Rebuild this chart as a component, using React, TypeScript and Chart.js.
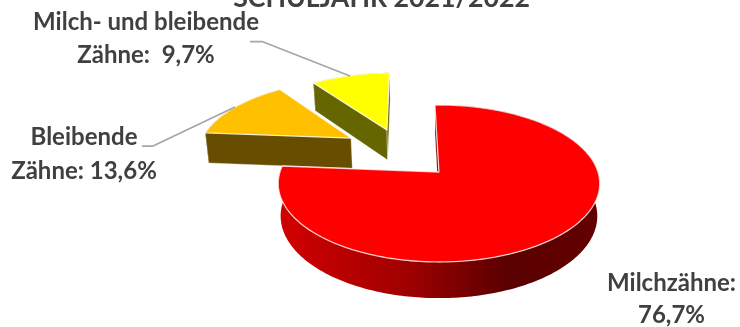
import React, { useEffect, useRef } from "react";
import Chart from "chart.js/auto";

const categories = ["Milchzähne", "Bleibende Zähne", "Milch- und bleibende Zähne"];
const shares = [76.7, 13.6, 9.7];
const topColors = ["#FF0000", "#FFC000", "#FFFF00"];
const wallColors = ["#660000", "#664D00", "#666600"];
const titleText = "SCHULJAHR 2021/2022";

// Exploded slices are pulled out along these plane vectors, in pie radii.
const sliceShift = [
  [0.006, 0],
  [-0.585, -0.473],
  [-0.349, -0.594],
];

const labelLines = [
  { lines: ["Milch- und bleibende", "Zähne:  9,7%"], x: 146, y: [30, 63] },
  { lines: ["Bleibende", "Zähne: 13,6%"], x: 84, y: [145, 179] },
  { lines: ["Milchzähne:", "76,7%"], x: 671.5, y: [291, 323] },
];
const leaderLines = [
  [[250, 41.5], [262, 41.5], [350, 76]],
  [[142, 146], [153, 146], [235, 107]],
];

const PERSPECTIVE = 0.1465;
const TILT = 76.8 / 159;
const DEPTH = 32;
const FLOOR_SCALE = 0.985;
const FONT = 'Lato, sans-serif';

type Pt = [number, number];

const pie3d = {
  id: "pie3d",
  beforeDatasetsDraw(chart: any) {
    const ctx: CanvasRenderingContext2D = chart.ctx;
    const arcs = chart.getDatasetMeta(0).data;

    // Draws the far slices first so that nearer faces cover them.
    for (let i = arcs.length - 1; i >= 0; i--) {
      const arc = arcs[i];
      const { x: cx, y: cy, startAngle, endAngle, outerRadius: R } = arc.getProps(
        ["x", "y", "startAngle", "endAngle", "outerRadius"],
        true
      );
      const [sx, sy] = sliceShift[i];

      const project = (a: number, r: number, low: boolean): Pt => {
        const px = r * Math.cos(a) + sx * R;
        const py = r * Math.sin(a) + sy * R;
        const w = 1 - (PERSPECTIVE * py) / R;
        const s = low ? FLOOR_SCALE : 1;
        return [cx + (px / w) * s, cy + ((TILT * py) / w) * s + (low ? DEPTH / w : 0)];
      };

      const rim = (low: boolean): Pt[] => {
        const out: Pt[] = [];
        const steps = Math.ceil(((endAngle - startAngle) * 180) / Math.PI);
        for (let k = 0; k <= steps; k++) {
          out.push(project(startAngle + ((endAngle - startAngle) * k) / steps, R, low));
        }
        return out;
      };

      const fillPoly = (pts: Pt[], fill: any, stroke?: string, width = 1) => {
        ctx.beginPath();
        pts.forEach((p, n) => (n ? ctx.lineTo(p[0], p[1]) : ctx.moveTo(p[0], p[1])));
        ctx.closePath();
        ctx.fillStyle = fill;
        ctx.fill();
        if (stroke) {
          ctx.strokeStyle = stroke;
          ctx.lineWidth = width;
          ctx.lineJoin = "round";
          ctx.stroke();
        }
      };

      const topRim = rim(false);
      const lowRim = rim(true);
      const apexTop = project(0, 0, false);
      const apexLow = project(0, 0, true);
      const wall = wallColors[i];
      const endTop = topRim[topRim.length - 1];
      const endLow = lowRim[lowRim.length - 1];

      // Curved outer wall; the big slice is shaded left to right.
      let outerFill: any = wall;
      if (i === 0) {
        const g = ctx.createLinearGradient(cx - R, 0, cx + R, 0);
        g.addColorStop(0, "#D20000");
        g.addColorStop(0.4, "#A00000");
        g.addColorStop(0.72, "#5A0000");
        g.addColorStop(1, "#640000");
        outerFill = g;
      }
      fillPoly([...topRim, ...lowRim.slice().reverse()], outerFill);

      // Radial cut faces, only where they turn towards the viewer.
      if (topRim[0][0] < apexTop[0]) {
        fillPoly([apexTop, topRim[0], lowRim[0], apexLow], wall, "rgba(255,255,255,0.45)", 0.8);
      }
      if (endTop[0] > apexTop[0]) {
        fillPoly([apexTop, endTop, endLow, apexLow], wall, "rgba(255,255,255,0.45)", 0.8);
      }

      // Top face.
      fillPoly([apexTop, ...topRim], arc.options.backgroundColor, "rgba(255,255,255,0.75)", 1.3);
    }

    // Leader lines and labels sit above the pie.
    ctx.strokeStyle = "#A6A6A6";
    ctx.lineWidth = 1.75;
    leaderLines.forEach((line) => {
      ctx.beginPath();
      line.forEach((p, n) => (n ? ctx.lineTo(p[0], p[1]) : ctx.moveTo(p[0], p[1])));
      ctx.stroke();
    });

    ctx.fillStyle = "#404040";
    ctx.textAlign = "center";
    ctx.textBaseline = "alphabetic";
    ctx.font = `700 24px ${FONT}`;
    labelLines.forEach((lab) => {
      lab.lines.forEach((t, n) => ctx.fillText(t, lab.x, lab.y[n]));
    });
    ctx.font = `700 26.7px ${FONT}`;
    ctx.fillText(titleText, 381.5, 7);

    return false;
  },
};

export default function App() {
  const ref = useRef<HTMLCanvasElement>(null);

  useEffect(() => {
    document.body.style.margin = "0";
    const chart = new Chart(ref.current as HTMLCanvasElement, {
      type: "pie",
      data: {
        labels: categories,
        datasets: [{ data: shares, backgroundColor: topColors }],
      },
      options: {
        animation: false,
        responsive: false,
        rotation: -1.6,
        radius: 159,
        layout: { padding: { left: 136, top: 17 } },
        plugins: { legend: { display: false }, tooltip: { enabled: false } },
      } as any,
      plugins: [pie3d],
    });
    return () => chart.destroy();
  }, []);

  return (
    <div style={{ position: "fixed", left: 0, top: 0, width: 740, height: 327, overflow: "hidden" }}>
      <canvas ref={ref} width={740} height={327} style={{ display: "block" }} />
    </div>
  );
}
